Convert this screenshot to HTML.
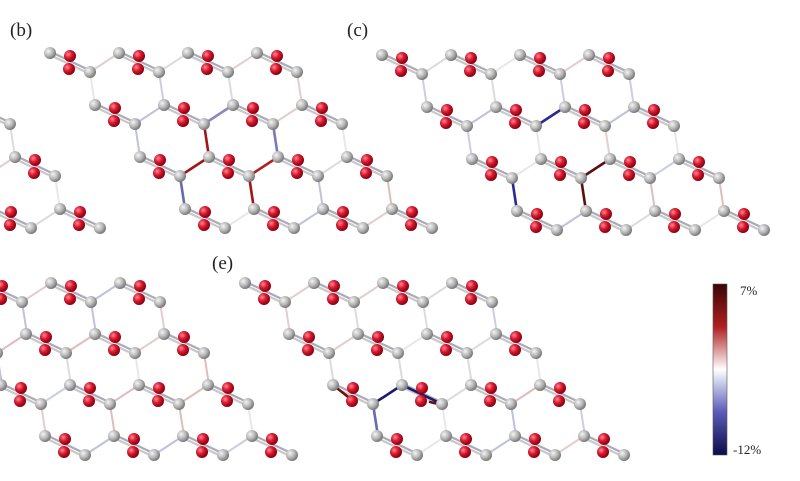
<!DOCTYPE html>
<html><head><meta charset="utf-8"><style>
html,body{margin:0;padding:0;background:#fff;width:800px;height:481px;overflow:hidden}
svg{display:block}
text{font-family:"Liberation Serif",serif;fill:#222}
</style></head><body>
<svg id="s" width="800" height="481" viewBox="0 0 800 481" xmlns="http://www.w3.org/2000/svg">
<defs>
<radialGradient id="g" cx="35%" cy="35%" r="65%"><stop offset="0" stop-color="#f4f4f4"/><stop offset="0.6" stop-color="#b4b4b4"/><stop offset="1" stop-color="#7a7a7a"/></radialGradient>
<radialGradient id="r" cx="35%" cy="35%" r="65%"><stop offset="0" stop-color="#ff8a96"/><stop offset="0.5" stop-color="#d8182e"/><stop offset="1" stop-color="#8a0010"/></radialGradient>
<linearGradient id="cb" x1="0" y1="0" x2="0" y2="1">
<stop offset="0" stop-color="#3a0606"/><stop offset="0.25" stop-color="#b02020"/><stop offset="0.5" stop-color="#ffffff"/><stop offset="0.75" stop-color="#5a5ab8"/><stop offset="1" stop-color="#0c0c48"/></linearGradient>
</defs>
<g id="bonds"></g><g id="atoms"></g>
<text x="10" y="36" font-size="19">(b)</text>
<text x="347" y="36" font-size="19">(c)</text>
<text x="212" y="269" font-size="19">(e)</text>
<rect x="713" y="284" width="14" height="171" fill="url(#cb)" stroke="#555" stroke-width="0.6"/>
<text x="740" y="295" font-size="13">7%</text>
<text x="733" y="454" font-size="13">-12%</text>
</svg>
<script>
var NS="http://www.w3.org/2000/svg";
var B=document.getElementById("bonds"),A=document.getElementById("atoms");
function ln(x1,y1,x2,y2,c,w){var l=document.createElementNS(NS,"line");l.setAttribute("x1",x1);l.setAttribute("y1",y1);l.setAttribute("x2",x2);l.setAttribute("y2",y2);l.setAttribute("stroke",c);l.setAttribute("stroke-width",w);l.setAttribute("stroke-linecap","round");B.appendChild(l);}
function ball(x,y,t){var c=document.createElementNS(NS,"circle");c.setAttribute("cx",x);c.setAttribute("cy",y);c.setAttribute("r",6);c.setAttribute("fill","url(#"+t+")");A.appendChild(c);}
var pal=["#dcdcdc","#e6cccc","#ccccE6","#e8e8e8","#e0bcbc","#c0c0e0"];
var seed=3;function rnd(){seed=(seed*9301+49297)%233280;return seed/233280;}
function panel(ox,oy,dx,dy,hl){
 for(var r=0;r<4;r++){for(var k=0;k<4;k++){
  var tx=ox+dx*r+69*k,ty=oy+dy*r,lx=tx+40,ly=ty+19;
  ln(tx,ty-1.5,lx,ly-1.5,"#aaaab8",2.2);ln(tx,ty+2,lx,ly+2,"#c8c8c8",2.2);
  var c=pal[Math.floor(rnd()*pal.length)];
  if(k<3) ln(lx,ly,tx+69,ty,c,2);
  c=pal[Math.floor(rnd()*pal.length)];
  if(r<3) ln(lx,ly,tx+dx+5-5+ (dx>44?0:0)+ (lx-tx-40)+ (0) + (tx+40-tx) - 40 + tx + dx - tx + 0 === 0 ? 0 : lx+ (dx-40)- (dx-40) + 5 - 0 + 0 - 5 + 5 - 0 , ty+dy, c, 2);
 }}
 (hl||[]).forEach(function(h){ln(h[0],h[1],h[2],h[3],h[4],2.6);});
 for(var r=0;r<4;r++){for(var k=0;k<4;k++){
  var tx=ox+dx*r+69*k,ty=oy+dy*r,lx=tx+40,ly=ty+19;
  ball(tx,ty,"g");ball(tx+19,ty+16,"r");ball(lx,ly,"g");ball(tx+20,ty+3,"r");
 }}
}
panel(-282,53,45,52);
panel(50,53,45,52,[[204,124,209,157,"#a01818"],[180,176,209,157,"#a01818"],[249,176,254,209,"#a01818"],[249,176,278,157,"#b02020"],[180,176,185,209,"#6a6ab0"],[273,124,278,157,"#7a7ab8"],[204,124,233,105,"#8a8ac0"]]);
panel(382,55,45,52,[[536,126,565,107,"#2a2a90"],[512,178,517,211,"#2a2a90"],[581,178,586,211,"#5a1010"],[581,178,610,159,"#5a1010"]]);
panel(-87,283,44,51);
panel(245,283,44,51,[[373,404,402,385,"#1a1a70"],[402,385,442,404,"#1a1a70"],[373,404,378,436,"#6a6ab0"],[333,385,352,400,"#6a1010"],[430,402,446,406,"#6a1010"]]);
</script>
</body></html>
